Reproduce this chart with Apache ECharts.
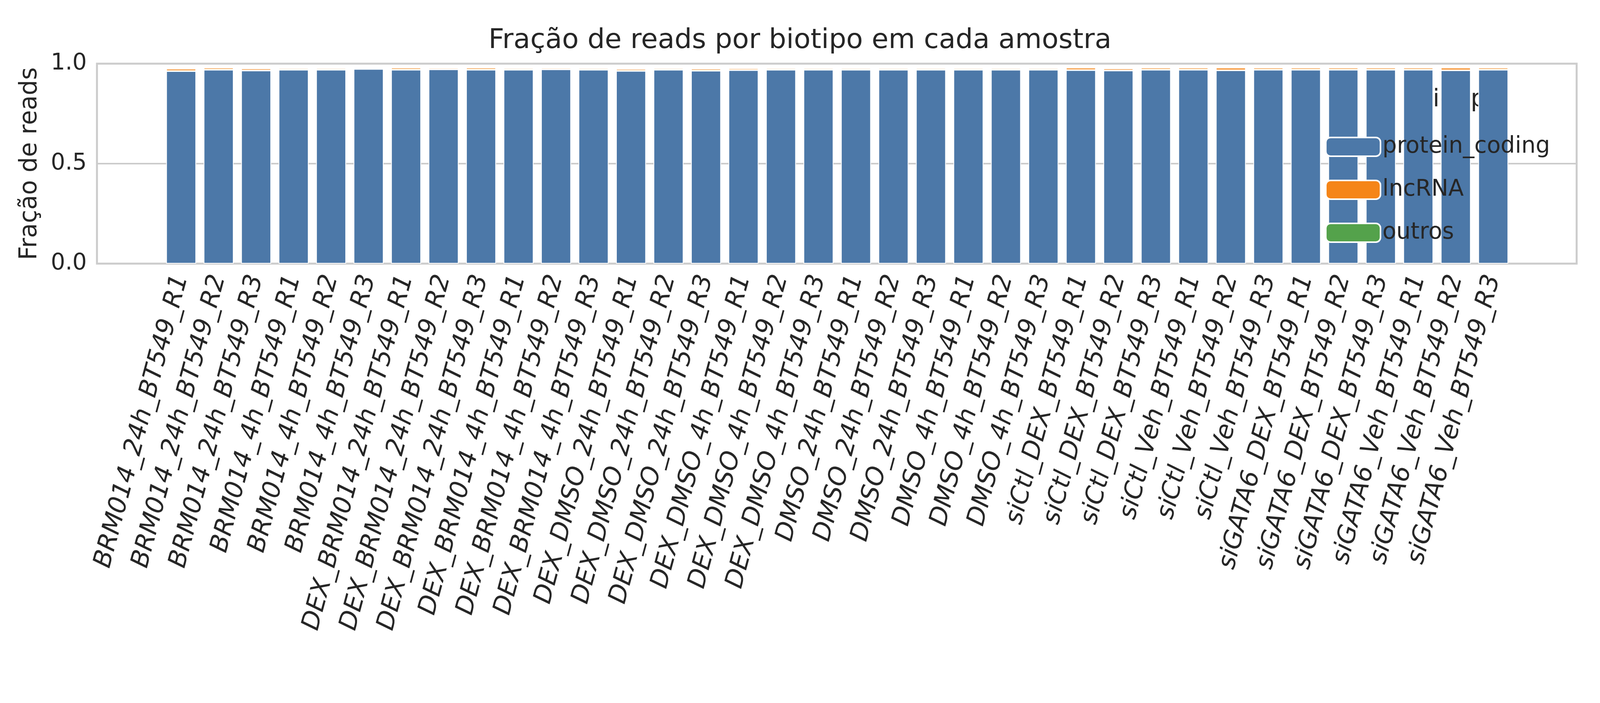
<!DOCTYPE html>
<html><head><meta charset="utf-8">
<script src="https://cdn.jsdelivr.net/npm/echarts@6/dist/echarts.min.js"></script>
<style>html,body{margin:0;padding:0;background:#fff;overflow:hidden}#c{width:100vw;height:100vh}</style>
</head><body><div id="c"></div>
<script>
const samples = ["BRM014_24h_BT549_R1","BRM014_24h_BT549_R2","BRM014_24h_BT549_R3","BRM014_4h_BT549_R1","BRM014_4h_BT549_R2","BRM014_4h_BT549_R3","DEX_BRM014_24h_BT549_R1","DEX_BRM014_24h_BT549_R2","DEX_BRM014_24h_BT549_R3","DEX_BRM014_4h_BT549_R1","DEX_BRM014_4h_BT549_R2","DEX_BRM014_4h_BT549_R3","DEX_DMSO_24h_BT549_R1","DEX_DMSO_24h_BT549_R2","DEX_DMSO_24h_BT549_R3","DEX_DMSO_4h_BT549_R1","DEX_DMSO_4h_BT549_R2","DEX_DMSO_4h_BT549_R3","DMSO_24h_BT549_R1","DMSO_24h_BT549_R2","DMSO_24h_BT549_R3","DMSO_4h_BT549_R1","DMSO_4h_BT549_R2","DMSO_4h_BT549_R3","siCtl_DEX_BT549_R1","siCtl_DEX_BT549_R2","siCtl_DEX_BT549_R3","siCtl_Veh_BT549_R1","siCtl_Veh_BT549_R2","siCtl_Veh_BT549_R3","siGATA6_DEX_BT549_R1","siGATA6_DEX_BT549_R2","siGATA6_DEX_BT549_R3","siGATA6_Veh_BT549_R1","siGATA6_Veh_BT549_R2","siGATA6_Veh_BT549_R3"];
const proteinCoding = [0.963,0.970,0.966,0.970,0.970,0.974,0.970,0.972,0.970,0.970,0.972,0.970,0.964,0.970,0.965,0.968,0.970,0.970,0.970,0.970,0.970,0.970,0.970,0.970,0.968,0.966,0.970,0.970,0.967,0.970,0.970,0.970,0.970,0.970,0.967,0.970];
const lncRNA = [0.012,0.010,0.010,0.008,0.008,0.007,0.010,0.008,0.010,0.008,0.008,0.008,0.010,0.008,0.010,0.009,0.008,0.008,0.008,0.008,0.008,0.008,0.008,0.008,0.012,0.010,0.010,0.010,0.013,0.010,0.010,0.010,0.010,0.010,0.013,0.010];
const outros = [0.004,0.004,0.004,0.004,0.004,0.004,0.004,0.004,0.004,0.004,0.004,0.004,0.004,0.004,0.004,0.004,0.004,0.004,0.004,0.004,0.004,0.004,0.004,0.004,0.004,0.004,0.004,0.004,0.004,0.004,0.004,0.004,0.004,0.004,0.004,0.004];
const F = 'DejaVu Sans';
const ch = echarts.init(document.getElementById('c'));
const mk = (name, data, color) => ({name, type:'bar', stack:'s', data, xAxisIndex:1, yAxisIndex:1, barCategoryGap:'20%',
  itemStyle:{color, borderColor:'#fff', borderWidth:2}});
ch.setOption({
  animation:false,
  title:{text:'Fração de reads por biotipo em cada amostra', left:'center', top:'3.6%', textStyle:{fontFamily:F,fontSize:70,fontWeight:'normal',color:'#262626'}},
  grid:[
    {left:'6.06%',right:'1.46%',top:'9.06%',bottom:'62.5%',show:true,borderColor:'#cccccc',borderWidth:5,z:0},
    {left:'10.15%',right:'5.5%',top:'9.06%',bottom:'62.5%'}
  ],
  legend:{right:'3%',top:'19%',orient:'vertical',itemWidth:140,itemHeight:48,itemGap:52,
    textStyle:{fontFamily:F,fontSize:58,color:'#262626'},
    data:['protein_coding','lncRNA','outros'], itemStyle:{borderColor:'#fff',borderWidth:4}},
  graphic:[{type:'text',right:'6.2%',top:'12.5%',style:{text:'Biotipo',fontFamily:F,fontSize:62,fill:'#262626'}}],
  xAxis:[
    {gridIndex:0,type:'value',min:0,max:1,show:false},
    {gridIndex:1,type:'category',data:samples,axisLine:{show:false},axisTick:{show:false},
      axisLabel:{interval:0,rotate:75,fontFamily:F,fontSize:64,fontStyle:'italic',color:'#262626',margin:30}}
  ],
  yAxis:[
    {gridIndex:0,type:'value',min:0,max:1,interval:0.5,name:'Fração de reads',nameLocation:'middle',nameGap:140,
      nameTextStyle:{fontFamily:F,fontSize:62,color:'#262626'},
      axisLine:{show:false},axisTick:{show:false},
      axisLabel:{fontFamily:F,fontSize:58,color:'#262626',margin:26,formatter:v=>v.toFixed(1)},
      splitLine:{lineStyle:{color:'#cccccc',width:4}}},
    {gridIndex:1,type:'value',min:0,max:1,show:false,splitLine:{show:false}}
  ],
  series:[mk('protein_coding',proteinCoding,'#4c78a8'),mk('lncRNA',lncRNA,'#f58518'),mk('outros',outros,'#54a24b')]
});
</script></body></html>
